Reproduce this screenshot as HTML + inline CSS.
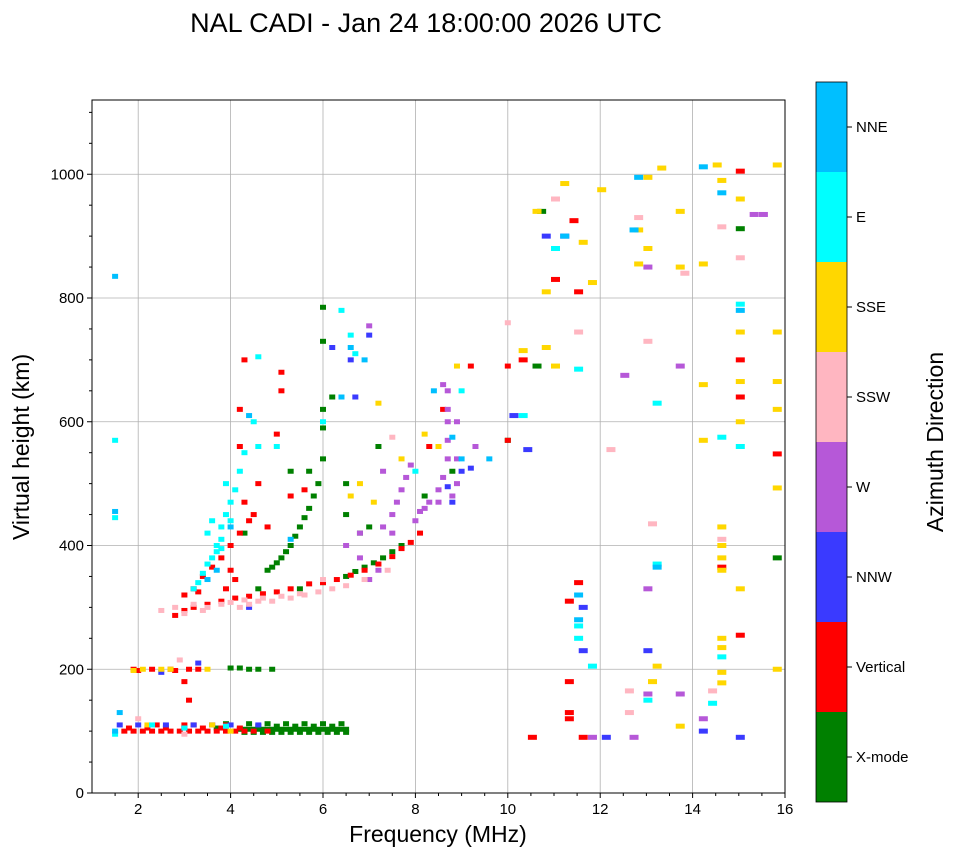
<!DOCTYPE html>
<html><head><meta charset="utf-8">
<style>
body{margin:0;background:#fff;font-family:"Liberation Sans",sans-serif;}
svg text{font-family:"Liberation Sans",sans-serif;}
</style></head>
<body>
<svg id="chart" width="958" height="857" viewBox="0 0 958 857" xmlns="http://www.w3.org/2000/svg">
<rect width="958" height="857" fill="#fff"/>
<text x="426" y="32" font-size="27" text-anchor="middle">NAL CADI - Jan 24 18:00:00 2026 UTC</text>
<g id="grid"></g>
<g id="marks"></g>
<rect x="92" y="100" width="693" height="693" fill="none" stroke="#000" stroke-width="1"/>
<g id="axes"></g>
<text x="438" y="842" font-size="23" text-anchor="middle">Frequency (MHz)</text>
<text transform="translate(29,447) rotate(-90)" font-size="23" text-anchor="middle">Virtual height (km)</text>
<g id="cbar"></g>
<text transform="translate(943,442) rotate(-90)" font-size="23" text-anchor="middle">Azimuth Direction</text>
</svg>
<script>
const xTicks=[2,4,6,8,10,12,14,16];
const yTicks=[0,200,400,600,800,1000];
const dirNames=["X-mode","Vertical","NNW","W","SSW","SSE","E","NNE"];
const dirColors=["#008000","#ff0000","#3a3aff","#b658d8","#ffb6c1","#ffd700","#00ffff","#00bfff"];

const xmodeF=[4.2,4.3,4.4,4.5,4.6,4.7,4.8,4.9,5.0,5.1,5.2,5.3,5.4,5.5,5.6,5.7,5.8,5.9,6.0,6.1,6.2,6.3,6.4,6.5,4.6,5.0,5.4,5.8,6.2,4.0,4.2,4.4,4.6,4.9,4.8,4.9,5.0,5.1,5.2,5.3,5.4,5.5,5.6,5.7,5.8,5.9,6.0,6.0,6.0,6.0,6.0,6.2,6.5,6.7,6.9,7.1,7.3,7.5,7.7,5.5,6.0,6.5,6.8,7.0,5.3,5.7,6.5,4.6,4.3,8.2,8.8,10.0,10.7,15.0,15.8,10.6,7.2,4.3,4.5,4.7,4.9,5.1,5.3,5.5,5.7,5.9,6.1,6.3,6.5,4.4,4.8,5.2,5.6,6.0,6.4,3.9,3.7];
const xmodeH=[103,103,103,103,103,103,103,103,103,103,103,103,103,103,103,103,103,103,103,103,103,103,103,103,108,108,108,108,108,202,202,200,200,200,360,365,372,380,390,400,415,430,445,460,480,500,540,590,620,730,785,640,350,358,365,372,380,390,400,330,340,450,420,430,520,520,500,330,420,480,520,570,940,912,380,690,560,98,98,98,98,98,98,98,98,98,98,98,98,112,112,112,112,112,112,112,105];

const vertF=[1.7,1.9,2.1,2.3,2.5,2.7,2.9,3.1,3.3,3.5,3.7,3.9,4.1,4.3,4.5,4.8,2.4,3.0,3.6,1.9,2.3,2.7,3.1,3.3,3.0,3.1,2.8,3.0,3.2,3.5,3.8,4.1,4.4,4.7,5.0,5.3,5.7,6.0,6.3,6.6,6.9,7.2,7.5,7.7,7.9,8.1,3.0,3.2,3.4,3.6,3.8,4.0,4.2,4.3,4.2,4.2,4.3,5.1,5.1,5.0,4.6,4.5,4.8,5.3,5.6,8.6,9.2,8.3,10.0,10.3,10.0,11.0,11.4,11.5,11.5,11.3,11.3,11.3,10.5,11.6,14.6,15.0,15.0,15.0,15.0,15.8,11.3,1.8,2.2,2.6,3.0,3.4,3.8,4.2,2.0,2.8,3.2,3.9,4.0,4.1,3.3,3.9,4.4];
const vertH=[100,100,100,100,100,100,100,100,100,100,100,100,100,100,100,100,110,110,110,200,200,200,200,200,180,150,287,295,300,305,310,315,318,322,325,330,338,340,345,352,360,370,382,395,405,420,320,330,350,365,380,400,420,470,560,620,700,680,650,580,500,450,430,480,490,620,690,560,690,700,570,830,925,810,340,310,130,120,90,90,365,1005,700,640,255,548,180,105,105,105,105,105,105,105,198,198,110,110,360,345,325,330,440];

const nnwF=[1.6,2.0,2.6,3.2,3.6,4.0,4.6,3.3,2.5,9.0,9.2,8.8,8.7,6.6,6.2,7.0,10.8,11.2,10.1,10.4,13.0,15.0,12.1,11.6,11.6,14.2,6.7,3.0,4.4];
const nnwH=[110,110,110,110,110,110,110,210,195,520,525,470,495,700,720,740,900,900,610,555,230,90,90,300,230,100,640,105,300];

const wF=[7.3,7.5,7.6,7.7,7.8,7.9,8.1,8.3,8.5,8.6,8.7,8.7,8.7,8.7,8.7,8.9,8.9,8.5,7.0,7.2,6.8,8.9,9.3,12.7,13.0,12.5,13.7,13.0,13.7,14.2,15.3,15.5,11.8,13.0,7.3,7.0,7.5,6.5,6.8,8.6,8.8,8.2,8.0];
const wH=[430,450,470,490,510,530,455,470,490,510,540,570,600,620,650,500,540,470,345,360,420,600,560,90,160,675,690,850,160,120,935,935,90,330,520,755,420,400,380,660,480,460,440];

const sswF=[2.5,2.8,3.2,3.5,3.8,4.2,4.6,4.9,5.3,5.6,5.9,6.2,6.5,6.9,7.4,6.0,4.4,2.9,2.0,3.0,12.6,12.6,12.8,13.0,12.2,14.4,14.6,14.6,15.0,13.8,10.0,11.0,11.5,7.5,13.1,3.0,3.4,4.0,4.3,4.7,5.1,5.5];
const sswH=[295,300,305,300,305,300,310,310,315,320,325,330,335,345,360,345,305,215,120,95,165,130,930,730,555,165,915,410,865,840,760,960,745,575,435,290,295,308,312,315,318,322];

const sseF=[1.9,2.7,3.5,4.0,3.6,2.2,6.6,6.8,7.1,7.2,7.7,8.2,8.9,8.5,10.3,10.8,10.8,11.6,12.8,12.8,13.0,13.3,13.0,13.7,13.7,14.5,14.6,14.2,14.2,14.2,14.6,14.6,14.6,14.6,14.6,14.6,14.6,14.6,15.0,15.0,15.0,15.0,15.0,15.8,15.8,15.8,15.8,15.8,15.8,13.2,13.7,13.1,11.8,11.0,10.6,12.0,11.2,2.1,2.5];
const sseH=[198,200,200,100,110,110,480,500,470,630,540,580,690,560,715,720,810,890,855,910,995,1010,880,940,850,1015,990,855,660,570,430,400,380,360,250,235,195,178,960,745,665,600,330,1015,745,665,620,493,200,205,108,180,825,690,940,975,985,200,200];

const eF=[3.2,3.3,3.4,3.5,3.6,3.7,3.8,3.8,3.9,4.0,4.1,4.2,3.5,3.6,3.9,4.3,4.5,4.6,4.6,1.5,1.5,1.5,2.3,3.0,3.9,6.6,6.7,6.4,8.0,9.0,10.3,11.5,11.5,11.5,13.2,13.2,14.4,14.6,14.6,15.0,15.0,13.0,11.0,11.8,6.0,5.0,3.7,3.8,4.0];
const eH=[330,340,355,370,380,390,410,430,450,470,490,520,420,440,500,550,600,705,560,570,445,95,110,105,108,740,710,780,520,650,610,685,270,250,370,630,145,575,220,790,560,150,880,205,600,560,400,395,440];

const nneF=[1.5,1.5,1.5,1.6,3.5,3.7,4.0,4.4,8.4,9.0,8.8,9.6,6.6,6.9,11.5,11.5,14.2,14.6,15.0,12.7,12.8,11.2,13.2,5.3,6.4];
const nneH=[835,455,100,130,345,360,430,610,650,540,575,540,720,700,320,280,1012,970,780,910,995,900,365,410,640];

const series=[[xmodeF,xmodeH],[vertF,vertH],[nnwF,nnwH],[wF,wH],[sswF,sswH],[sseF,sseH],[eF,eH],[nneF,nneH]];

const X0=92,X1=785,Y0=793,Y1=100;
function xs(f){return X0+(f-1)/(16-1)*(X1-X0);}
function ys(h){return Y0-h/1120*(Y0-Y1);}
const NS="http://www.w3.org/2000/svg";
function mk(tag,attrs,parent){const e=document.createElementNS(NS,tag);for(const k in attrs)e.setAttribute(k,attrs[k]);parent.appendChild(e);return e;}
const grid=document.getElementById('grid'),axes=document.getElementById('axes'),marks=document.getElementById('marks'),cbar=document.getElementById('cbar');

xTicks.forEach(t=>{const x=xs(t);
 const g=mk('line',{x1:x,x2:x,y1:Y1,y2:Y0,stroke:'#b0b0b0','stroke-width':0.8},grid);
 
 
 mk('line',{x1:x,x2:x,y1:Y0,y2:Y0+5,stroke:'#000'},axes);
 const tx=mk('text',{x:x,y:Y0+21,'font-size':15,'text-anchor':'middle'},axes);tx.textContent=t;
 
 
});
for(let f=1.5;f<16;f+=0.5){if(f%2!==0){const x=xs(f);mk('line',{x1:x,x2:x,y1:Y0,y2:Y0+3,stroke:'#000'},axes);}}
yTicks.forEach(t=>{const y=ys(t);
 const g=mk('line',{x1:X0,x2:X1,y1:y,y2:y,stroke:'#b0b0b0','stroke-width':0.8},grid);
 
 
 mk('line',{x1:X0-5,x2:X0,y1:y,y2:y,stroke:'#000'},axes);
 const tx=mk('text',{x:X0-8,y:y+5,'font-size':15,'text-anchor':'end'},axes);tx.textContent=t;
 
 
});
for(let h=50;h<1120;h+=50){if(h%200!==0){const y=ys(h);mk('line',{x1:X0-3,x2:X0,y1:y,y2:y,stroke:'#000'},axes);}}

series.forEach((s,i)=>{
 const F=s[0],H=s[1];
 for(let k=0;k<Math.min(F.length,H.length);k++){
  const r=mk('rect',{x:xs(F[k])-3,y:ys(H[k])-2.5,width:(F[k]>10?9:6),height:5,fill:dirColors[i]},marks);
  
  
 }
});

const CB0=82,CB1=802,CBX=816,CBW=31,seg=(CB1-CB0)/dirNames.length;
dirNames.forEach((n,i)=>{
 const y=CB1-(i+1)*seg;
 const r=mk('rect',{x:CBX,y:y,width:CBW,height:seg,fill:dirColors[i]},cbar);
 
 
 mk('line',{x1:CBX+CBW,x2:CBX+CBW+5,y1:y+seg/2,y2:y+seg/2,stroke:'#000'},cbar);
 const t=mk('text',{x:CBX+CBW+9,y:y+seg/2+5,'font-size':15},cbar);t.textContent=n;
 
 
});
mk('rect',{x:CBX,y:CB0,width:CBW,height:CB1-CB0,fill:'none',stroke:'#000','stroke-width':0.8},cbar);
</script>
</body></html>
